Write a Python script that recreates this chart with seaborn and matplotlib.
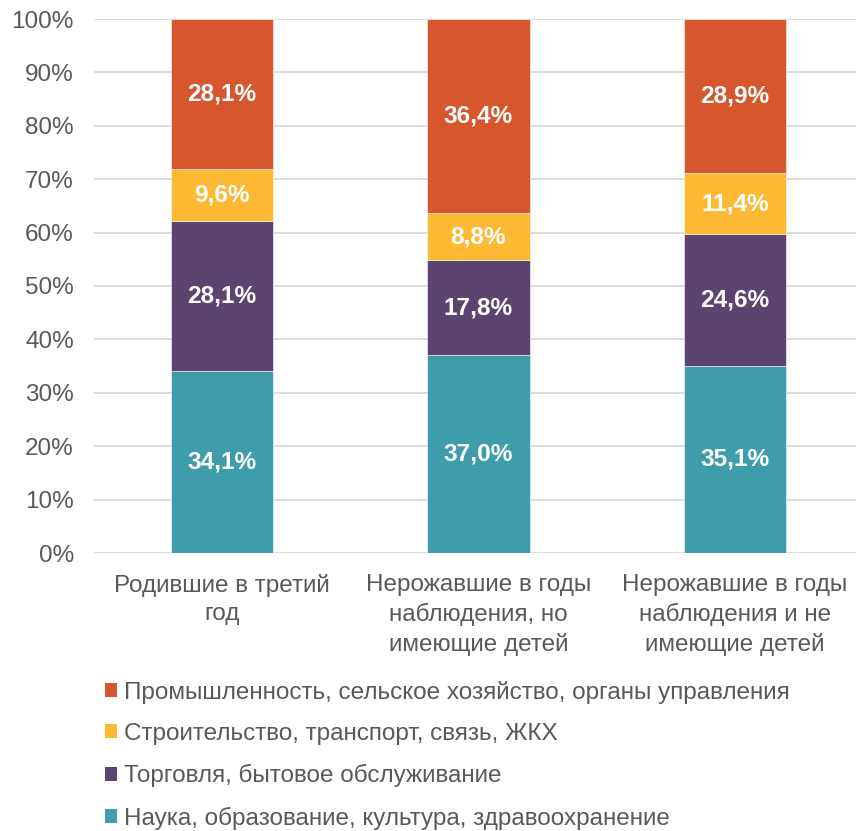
import numpy as np
import pandas as pd
import matplotlib
matplotlib.use('Agg')
import matplotlib.pyplot as plt
import seaborn as sns
from matplotlib.patches import Patch

categories = ['Родившие в третий\nгод',
              'Нерожавшие в годы\nнаблюдения, но\nимеющие детей',
              'Нерожавшие в годы\nнаблюдения и не\nимеющие детей']
series_names = ['Наука, образование, культура, здравоохранение',
                'Торговля, бытовое обслуживание',
                'Строительство, транспорт, связь, ЖКХ',
                'Промышленность, сельское хозяйство, органы управления']
nauka = [34.1, 37.0, 35.1]
torgovlya = [28.1, 17.8, 24.6]
stroitelstvo = [9.6, 8.8, 11.4]
promyshl = [28.1, 36.4, 28.9]
colors = ['#3E9CAB', '#5B4470', '#FDB934', '#D6562E']

sns.set_style('white')
plt.rcParams['font.family'] = ['Liberation Sans', 'DejaVu Sans']

vals = np.array([nauka, torgovlya, stroitelstvo, promyshl])
share = vals / vals.sum(axis=0) * 100  # 100% stacked

fig = plt.figure(figsize=(8.56, 8.31), dpi=100)
ax = fig.add_axes([94/856, 1-553/831, 769/856, 534/831])

bottom = np.zeros(3)
for i in range(4):
    df = pd.DataFrame({'cat': categories, 'v': share[i]})
    sns.barplot(data=df, x='cat', y='v', bottom=bottom, color=colors[i],
                width=0.4, saturation=1, ax=ax, zorder=3,
                edgecolor='white', linewidth=0.4)
    for j in range(3):
        ax.text(j, bottom[j] + share[i][j] / 2, f'{vals[i][j]:.1f}%'.replace('.', ','),
                ha='center', va='center', color='white', fontsize=17.6,
                fontweight='bold', zorder=4)
    bottom = bottom + share[i]

ax.set_ylim(0, 100)
ax.set_xlim(-0.5, 2.5)
ax.set_yticks(range(0, 101, 10))
ax.set_yticklabels([f'{t}%' for t in range(0, 101, 10)])
ax.set_xlabel('')
ax.set_ylabel('')
ax.yaxis.grid(True, color='#d9d9d9', linewidth=1.3, zorder=0)
ax.set_axisbelow(True)
for s in ax.spines.values():
    s.set_visible(False)
ax.tick_params(axis='both', length=0, labelsize=17.5, labelcolor='#595959')
ax.tick_params(axis='x', pad=15)
ax.tick_params(axis='y', pad=14.5)
for lbl in ax.get_xticklabels():
    lbl.set_linespacing(1.38)
    lbl.set_va('top')

handles = [Patch(facecolor=colors[i], edgecolor='none', label=series_names[i]) for i in [3, 2, 1, 0]]
fig.legend(handles=handles, loc='upper left', bbox_to_anchor=(95/856, 1-671/831),
           frameon=False, fontsize=17.5, handlelength=0.5, handleheight=0.5,
           handletextpad=0.3, labelspacing=0.79, labelcolor='#595959', borderaxespad=0)

fig.savefig('out.png', dpi=100)
